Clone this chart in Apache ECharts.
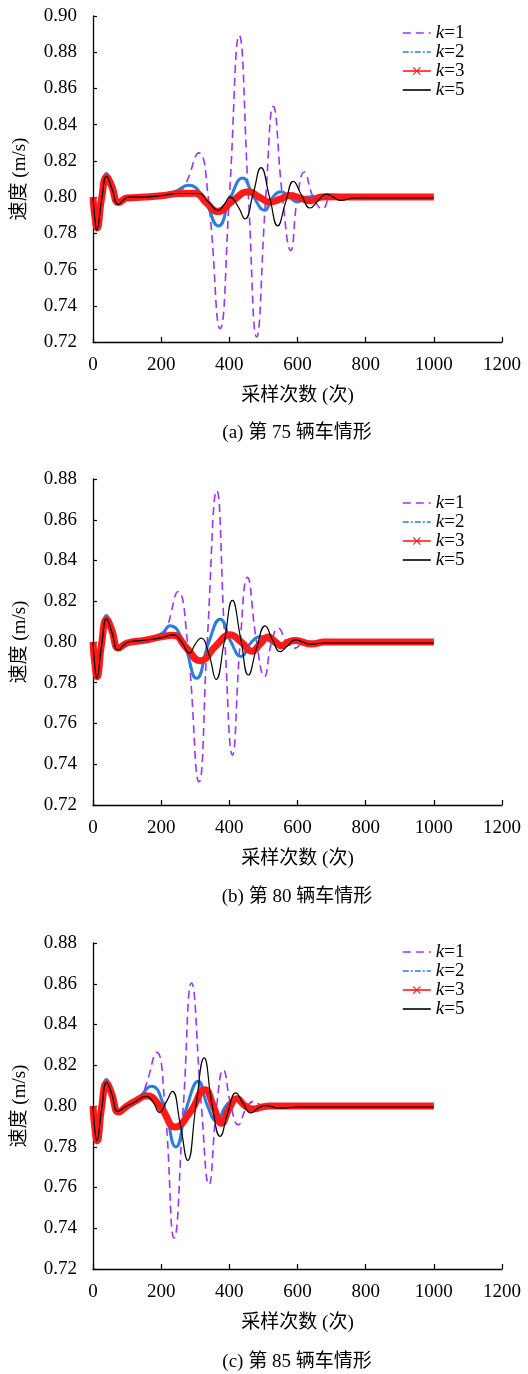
<!DOCTYPE html>
<html>
<head>
<meta charset="utf-8">
<script src="https://cdn.jsdelivr.net/npm/echarts@6/dist/echarts.min.js"></script>
<style>
  html, body { margin: 0; padding: 0; background: #fff; }
  #chart { width: 528px; height: 1374px; }
</style>
</head>
<body>
<div id="chart"></div>
<script>
// Speed of a vehicle versus sampling count, for several k values, in three cases.
const seriesNames = ['k=1', 'k=2', 'k=3', 'k=5'];
const captions = ['(a) 第 75 辆车情形', '(b) 第 80 辆车情形', '(c) 第 85 辆车情形'];
const xTitle = '采样次数 (次)';
const yTitle = '速度 (m/s)';
const yMaxes = [0.90, 0.88, 0.88];

// Panel (a): vehicle 75
const a_k1 = [[0,0.800],[10,0.782],[25,0.800],[40,0.812],[55,0.806],[75,0.797],[100,0.7995],[150,0.800],[200,0.8005],[250,0.8025],[270,0.8065],[311,0.8244],[338,0.800],[373,0.7274],[400,0.800],[429,0.8893],[456,0.800],[480,0.7228],[507,0.800],[529,0.8501],[556,0.800],[580,0.7706],[600,0.800],[620,0.8139],[646,0.800],[674,0.7936],[700,0.800],[750,0.800],[1000,0.800]];
const a_k2 = [[0,0.800],[10,0.782],[25,0.800],[40,0.813],[55,0.807],[75,0.797],[100,0.7995],[150,0.800],[200,0.8008],[240,0.803],[280,0.8065],[323,0.800],[368,0.7841],[404,0.800],[439,0.8106],[472,0.800],[503,0.7927],[528,0.800],[552,0.8029],[576,0.800],[600,0.7973],[625,0.800],[650,0.8003],[700,0.800],[1000,0.800]];
const a_k3 = [[0,0.800],[5,0.790],[12,0.783],[25,0.799],[40,0.811],[55,0.806],[75,0.797],[100,0.7995],[150,0.800],[200,0.8007],[250,0.802],[300,0.8022],[332,0.797],[365,0.792],[410,0.798],[456,0.803],[488,0.800],[519,0.7973],[550,0.799],[578,0.8009],[608,0.7995],[637,0.798],[670,0.800],[700,0.8002],[750,0.800],[1000,0.800]];
const a_k5 = [[0,0.800],[5,0.789],[11,0.7817],[25,0.798],[40,0.8115],[55,0.805],[74,0.796],[90,0.7985],[104,0.800],[150,0.800],[200,0.8008],[250,0.802],[310,0.802],[340,0.797],[368,0.7927],[385,0.796],[402,0.800],[425,0.795],[446,0.788],[470,0.802],[493,0.8163],[518,0.800],[542,0.7841],[565,0.797],[588,0.8087],[612,0.801],[637,0.794],[660,0.798],[684,0.8016],[705,0.800],[725,0.7982],[769,0.7995],[800,0.7995],[1000,0.7995]];

// Panel (b): vehicle 80
const b_k1 = [[0,0.800],[10,0.782],[25,0.800],[40,0.812],[55,0.806],[75,0.797],[100,0.7995],[150,0.801],[200,0.8025],[215,0.806],[250,0.8248],[277,0.800],[311,0.7314],[335,0.800],[363,0.8743],[387,0.800],[409,0.7445],[432,0.800],[453,0.8317],[480,0.800],[503,0.783],[524,0.800],[544,0.8068],[568,0.800],[593,0.797],[620,0.800],[1000,0.800]];
const b_k2 = [[0,0.800],[10,0.782],[25,0.800],[40,0.813],[55,0.807],[75,0.797],[100,0.7995],[150,0.801],[200,0.804],[226,0.808],[265,0.800],[304,0.7822],[340,0.800],[373,0.8112],[405,0.800],[434,0.7929],[465,0.800],[495,0.8027],[522,0.800],[549,0.7978],[575,0.800],[600,0.800],[1000,0.800]];
const b_k3 = [[0,0.800],[5,0.790],[12,0.783],[25,0.799],[40,0.811],[55,0.806],[75,0.797],[100,0.7995],[150,0.8008],[200,0.8025],[235,0.8033],[275,0.797],[314,0.7908],[360,0.798],[402,0.8035],[435,0.800],[466,0.7955],[490,0.799],[514,0.8025],[535,0.800],[553,0.7982],[573,0.800],[593,0.8007],[640,0.799],[680,0.800],[1000,0.800]];
const b_k5 = [[0,0.800],[5,0.789],[11,0.7822],[25,0.798],[40,0.8115],[55,0.805],[74,0.796],[90,0.7985],[104,0.800],[150,0.8008],[200,0.802],[236,0.8035],[260,0.800],[283,0.7945],[300,0.799],[317,0.8019],[340,0.794],[361,0.7817],[385,0.800],[409,0.8204],[433,0.802],[456,0.7838],[480,0.797],[505,0.8079],[527,0.801],[549,0.7953],[570,0.798],[593,0.801],[615,0.800],[637,0.7989],[680,0.7995],[1000,0.7995]];

// Panel (c): vehicle 85
const c_k1 = [[0,0.800],[10,0.782],[25,0.800],[40,0.812],[55,0.807],[75,0.797],[100,0.800],[140,0.8045],[155,0.810],[187,0.8263],[211,0.800],[238,0.7352],[265,0.800],[289,0.8604],[318,0.800],[340,0.7614],[363,0.800],[382,0.8178],[405,0.800],[426,0.7908],[450,0.799],[472,0.8023],[500,0.800],[1000,0.800]];
const c_k2 = [[0,0.800],[10,0.782],[25,0.800],[40,0.813],[55,0.807],[75,0.797],[100,0.800],[130,0.803],[172,0.8097],[208,0.800],[243,0.7799],[276,0.800],[309,0.8121],[336,0.800],[363,0.7925],[390,0.800],[417,0.8031],[440,0.800],[461,0.798],[490,0.800],[1000,0.800]];
const c_k3 = [[0,0.800],[5,0.790],[12,0.783],[25,0.799],[40,0.811],[55,0.806],[75,0.797],[100,0.800],[125,0.8025],[157,0.805],[200,0.799],[241,0.7897],[285,0.797],[329,0.808],[353,0.800],[377,0.7915],[400,0.799],[422,0.8035],[447,0.800],[470,0.7985],[495,0.7995],[520,0.800],[1000,0.800]];
const c_k5 = [[0,0.800],[5,0.789],[11,0.783],[25,0.798],[40,0.8116],[55,0.806],[73,0.7974],[99,0.800],[118,0.8015],[157,0.8047],[176,0.802],[195,0.7969],[215,0.802],[233,0.8072],[255,0.792],[278,0.7733],[302,0.800],[326,0.8236],[350,0.800],[373,0.7851],[396,0.797],[419,0.8064],[441,0.801],[463,0.7966],[485,0.799],[505,0.8002],[549,0.799],[600,0.7995],[1000,0.7995]];

const panels = [
  [a_k1, a_k2, a_k3, a_k5],
  [b_k1, b_k2, b_k3, b_k5],
  [c_k1, c_k2, c_k3, c_k5]
];

const FONT = "'Liberation Serif', 'Times New Roman', 'Noto Sans CJK SC', serif";
const FS = 19;

// layout of the three stacked plots
const gridTops = [16, 479, 943];
const plotH = 326;
const captionY = [433, 897, 1362];
const legendTops = [23.5, 493.5, 942.5];

const crossPath = 'path://M0,1L1,0L5,4L9,0L10,1L6,5L10,9L9,10L5,6L1,10L0,9L4,5Z';

const grids = [], xAxes = [], yAxes = [], series = [], legends = [], graphics = [];

panels.forEach((data, i) => {
  grids.push({ left: 93, right: 26, top: gridTops[i], height: plotH });
  xAxes.push({
    gridIndex: i, type: 'value', min: 0, max: 1200, interval: 200,
    name: xTitle, nameLocation: 'middle', nameGap: 45,
    nameTextStyle: { fontFamily: FONT, fontSize: FS, color: '#000' },
    axisLine: { lineStyle: { color: '#000', width: 1.3 } },
    axisTick: { inside: true, length: 5, lineStyle: { color: '#000', width: 1.2 } },
    axisLabel: { margin: 14, fontFamily: FONT, fontSize: FS, color: '#000',
      formatter: v => String(v) },
    splitLine: { show: false }
  });
  yAxes.push({
    gridIndex: i, type: 'value', min: 0.72, max: yMaxes[i], interval: 0.02,
    name: yTitle, nameLocation: 'middle', nameGap: 63, nameRotate: 90,
    nameTextStyle: { fontFamily: FONT, fontSize: FS, color: '#000' },
    axisLine: { show: true, lineStyle: { color: '#000', width: 1.3 } },
    axisTick: { show: true, inside: true, length: 4, lineStyle: { color: '#000', width: 1.2 } },
    axisLabel: { margin: 16, fontFamily: FONT, fontSize: FS, color: '#000',
      formatter: v => v.toFixed(2) },
    splitLine: { show: false }
  });

  series.push({
    name: seriesNames[0], type: 'line', xAxisIndex: i, yAxisIndex: i, data: data[0],
    smooth: 0.5, showSymbol: false, symbol: 'none', z: 2,
    lineStyle: { color: '#9933ff', width: 1.6, type: [8, 5] },
    itemStyle: { color: '#9933ff' }
  });
  series.push({
    name: seriesNames[1], type: 'line', xAxisIndex: i, yAxisIndex: i, data: data[1],
    smooth: 0.5, showSymbol: false, symbol: 'none', z: 3,
    lineStyle: { color: '#2a7de1', width: 3 },
    itemStyle: { color: '#2a7de1' }
  });
  series.push({
    name: seriesNames[2], type: 'line', xAxisIndex: i, yAxisIndex: i, data: data[2],
    smooth: 0.5, showSymbol: false, symbol: crossPath, symbolSize: 9, z: 4,
    lineStyle: { color: '#ff1a1a', width: 7 },
    itemStyle: { color: '#ff1a1a' }
  });
  series.push({
    name: seriesNames[3], type: 'line', xAxisIndex: i, yAxisIndex: i, data: data[3],
    smooth: 0.5, showSymbol: false, symbol: 'none', z: 5,
    lineStyle: { color: '#000', width: 1.2 },
    itemStyle: { color: '#000' }
  });

  legends.push({
    orient: 'vertical', left: 402, top: legendTops[i], padding: 0, itemGap: 0,
    itemWidth: 28, itemHeight: 10,
    data: [
      { name: 'k=1', itemStyle: { opacity: 0 }, lineStyle: { width: 1.6, type: [8, 5] } },
      { name: 'k=2', itemStyle: { opacity: 0 }, lineStyle: { width: 1.6, type: [6, 2, 2, 2] } },
      { name: 'k=3', lineStyle: { width: 1.6 } },
      { name: 'k=5', itemStyle: { opacity: 0 }, lineStyle: { width: 1.6 } }
    ],
    formatter: name => '{i|k}{n|=' + name.split('=')[1] + '}',
    textStyle: {
      fontFamily: FONT, fontSize: FS, color: '#000', lineHeight: 19,
      rich: {
        i: { fontFamily: FONT, fontSize: FS, fontStyle: 'italic', color: '#000', lineHeight: 19 },
        n: { fontFamily: FONT, fontSize: FS, color: '#000', lineHeight: 19 }
      }
    }
  });

  graphics.push({
    type: 'text', x: 297, y: captionY[i],
    style: { text: captions[i], fontFamily: FONT, fontSize: FS, fill: '#000',
      align: 'center', verticalAlign: 'middle' }
  });
});

const chart = echarts.init(document.getElementById('chart'), null, { renderer: 'canvas' });
chart.setOption({
  animation: false,
  backgroundColor: '#fff',
  grid: grids,
  xAxis: xAxes,
  yAxis: yAxes,
  legend: legends,
  series: series,
  graphic: graphics
});
</script>
</body>
</html>
